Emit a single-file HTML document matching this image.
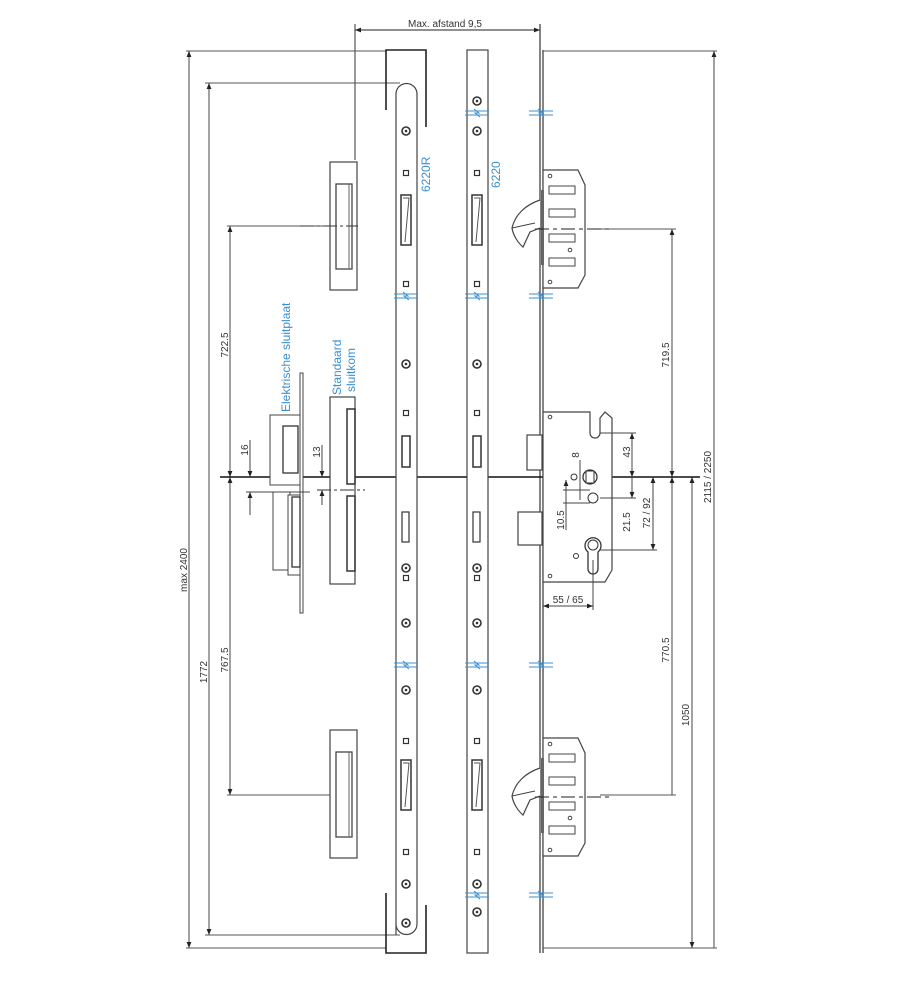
<!DOCTYPE html>
<html><head><meta charset="utf-8"><style>
html,body{margin:0;padding:0;background:#fff}
svg{display:block}
text{font-family:"Liberation Sans",sans-serif;font-size:10px;fill:#333}
.b{fill:#3a8fd0;font-size:12px}
</style></head><body>
<svg width="903" height="1000" viewBox="0 0 903 1000" xmlns="http://www.w3.org/2000/svg">
<defs>
<marker id="a" viewBox="0 0 10 10" refX="10" refY="5" markerWidth="6" markerHeight="6" orient="auto-start-reverse"><path d="M0,1 L10,5 L0,9 z" fill="#222"/></marker>
<g id="hole"><circle r="4" fill="none" stroke="#333" stroke-width="1.6"/><circle r="1.3" fill="#333"/></g>
<g id="sq"><rect x="-2.5" y="-2.5" width="5" height="5" fill="none" stroke="#333" stroke-width="1.2"/></g>
<g id="latch"><rect x="-5" y="0" width="10" height="50" fill="none" stroke="#333" stroke-width="1.5"/><path d="M-3,3 L3,3 L1,25 L-1,47" fill="none" stroke="#555" stroke-width="1"/></g>
<g id="brk"><line x1="-12" y1="-2" x2="12" y2="-2" stroke="#3a8fd0" stroke-width="1"/><line x1="-12" y1="2" x2="12" y2="2" stroke="#3a8fd0" stroke-width="1"/><path d="M-3,-4 L2,0 L-2,0 L3,4" fill="none" stroke="#3a8fd0"/></g>
<g id="hook">
<path d="M543,170 L578,170 L585,185 L585,275 L578,288 L543,288 Z" fill="#fff" stroke="#444" stroke-width="1.2"/>
<rect x="549" y="186" width="26" height="8" fill="none" stroke="#444"/>
<rect x="549" y="209" width="26" height="8" fill="none" stroke="#444"/>
<rect x="549" y="234" width="26" height="8" fill="none" stroke="#444"/>
<rect x="549" y="258" width="26" height="8" fill="none" stroke="#444"/>
<circle cx="550" cy="176" r="1.8" fill="none" stroke="#444"/><circle cx="550" cy="282" r="1.8" fill="none" stroke="#444"/><circle cx="570" cy="250" r="1.8" fill="none" stroke="#444"/>
<path d="M540,200 C525,205 515,215 512,228 C513,235 518,243 523,247 L530,232 L540,228" fill="#fff" stroke="#444" stroke-width="1.2"/>
<path d="M512,228 L535,223" stroke="#444" fill="none"/>
<rect x="541" y="190" width="3" height="75" fill="#666"/>
<line x1="535" y1="229" x2="610" y2="229" stroke="#222" stroke-dasharray="14,4,4,4"/>
</g>
</defs>

<!-- top dim -->
<line x1="355" y1="30" x2="540" y2="30" stroke="#222" marker-start="url(#a)" marker-end="url(#a)"/>
<text x="445" y="27" text-anchor="middle">Max. afstand 9,5</text>
<line x1="355" y1="24" x2="355" y2="160" stroke="#333"/>
<line x1="540" y1="24" x2="540" y2="953" stroke="#333" stroke-width="1.2"/>
<line x1="543" y1="50" x2="543" y2="953" stroke="#333" stroke-width="1.2"/>

<!-- left dims -->
<line x1="186" y1="51" x2="386" y2="51" stroke="#555"/>
<line x1="189" y1="51" x2="189" y2="948" stroke="#444" marker-start="url(#a)" marker-end="url(#a)"/>
<line x1="186" y1="948" x2="386" y2="948" stroke="#555"/>
<text transform="translate(187,570) rotate(-90)" text-anchor="middle">max 2400</text>
<line x1="205" y1="83" x2="400" y2="83" stroke="#555"/>
<line x1="209" y1="83" x2="209" y2="935" stroke="#444" marker-start="url(#a)" marker-end="url(#a)"/>
<line x1="205" y1="935" x2="400" y2="935" stroke="#555"/>
<text transform="translate(207,672) rotate(-90)" text-anchor="middle">1772</text>
<line x1="227" y1="226" x2="358" y2="226" stroke="#555"/>
<line x1="230" y1="226" x2="230" y2="477" stroke="#444" marker-start="url(#a)" marker-end="url(#a)"/>
<line x1="230" y1="477" x2="230" y2="795" stroke="#444" marker-start="url(#a)" marker-end="url(#a)"/>
<line x1="227" y1="795" x2="330" y2="795" stroke="#555"/>
<text transform="translate(228,345) rotate(-90)" text-anchor="middle">722.5</text>
<text transform="translate(228,660) rotate(-90)" text-anchor="middle">767.5</text>

<!-- right dims -->
<line x1="543" y1="51" x2="717" y2="51" stroke="#555"/>
<line x1="714" y1="51" x2="714" y2="948" stroke="#444" marker-start="url(#a)"/>
<line x1="543" y1="948" x2="717" y2="948" stroke="#555"/>
<text transform="translate(711,477) rotate(-90)" text-anchor="middle">2115 / 2250</text>
<line x1="600" y1="229" x2="676" y2="229" stroke="#555"/>
<line x1="672" y1="229" x2="672" y2="477" stroke="#444" marker-start="url(#a)" marker-end="url(#a)"/>
<line x1="672" y1="477" x2="672" y2="795" stroke="#444" marker-start="url(#a)"/>
<line x1="600" y1="795" x2="676" y2="795" stroke="#555"/>
<text transform="translate(669,355) rotate(-90)" text-anchor="middle">719.5</text>
<text transform="translate(669,650) rotate(-90)" text-anchor="middle">770.5</text>
<line x1="692" y1="477" x2="692" y2="948" stroke="#444" marker-start="url(#a)" marker-end="url(#a)"/>
<text transform="translate(689,715) rotate(-90)" text-anchor="middle">1050</text>

<!-- main center line -->
<line x1="220" y1="477" x2="700" y2="477" stroke="#111" stroke-width="1.6"/>

<!-- U brackets -->
<path d="M386,110 L386,50 L426,50 L426,127" fill="none" stroke="#222" stroke-width="1.6"/>
<path d="M386,893 L386,953 L426,953 L426,905" fill="none" stroke="#222" stroke-width="1.6"/>

<!-- 6220R strip -->
<path d="M396,935 L396,94 A10.5,10.5 0 0 1 417,94 L417,924 A10.5,10.5 0 0 1 396,924" fill="#fff" stroke="#444" stroke-width="1.2"/>
<text class="b" transform="translate(430,192) rotate(-90)">6220R</text>
<use href="#hole" x="406" y="131"/><use href="#sq" x="406" y="173"/><use href="#latch" x="406" y="195"/><use href="#sq" x="406" y="284"/>
<use href="#brk" x="406" y="296"/>
<use href="#hole" x="406" y="364"/><use href="#sq" x="406" y="413"/>
<rect x="402" y="436" width="8" height="31" fill="none" stroke="#333" stroke-width="1.5"/>
<rect x="402" y="512" width="7" height="30" fill="none" stroke="#333" stroke-width="1.2"/>
<use href="#hole" x="406" y="568"/><use href="#sq" x="406" y="578"/>
<use href="#hole" x="406" y="623"/><use href="#brk" x="406" y="665"/>
<use href="#hole" x="406" y="690"/><use href="#sq" x="406" y="741"/><use href="#latch" x="406" y="760"/>
<use href="#sq" x="406" y="852"/><use href="#hole" x="406" y="884"/><use href="#hole" x="406" y="923"/>

<!-- 6220 strip -->
<rect x="467" y="50" width="21" height="903" fill="#fff" stroke="#444" stroke-width="1.2"/>
<text class="b" transform="translate(500,188) rotate(-90)">6220</text>
<use href="#hole" x="477" y="101"/><use href="#brk" x="477" y="113"/><use href="#hole" x="477" y="131"/>
<use href="#sq" x="477" y="173"/><use href="#latch" x="477" y="195"/><use href="#sq" x="477" y="284"/>
<use href="#brk" x="477" y="296"/>
<use href="#hole" x="477" y="364"/><use href="#sq" x="477" y="413"/>
<rect x="473" y="436" width="8" height="31" fill="none" stroke="#333" stroke-width="1.5"/>
<rect x="473" y="512" width="7" height="30" fill="none" stroke="#333" stroke-width="1.2"/>
<use href="#hole" x="477" y="568"/><use href="#sq" x="477" y="578"/>
<use href="#hole" x="477" y="623"/><use href="#brk" x="477" y="665"/>
<use href="#hole" x="477" y="690"/><use href="#sq" x="477" y="741"/><use href="#latch" x="477" y="760"/>
<use href="#sq" x="477" y="852"/><use href="#hole" x="477" y="884"/><use href="#brk" x="477" y="895"/><use href="#hole" x="477" y="912"/>

<!-- breaks on front plate -->
<use href="#brk" x="541" y="113" transform="translate(0,0)"/>
<use href="#brk" x="541" y="296"/><use href="#brk" x="541" y="665"/><use href="#brk" x="541" y="895"/>

<!-- hooks -->
<use href="#hook"/>
<use href="#hook" y="568"/>

<!-- lock body -->
<path d="M543,412 L590,412 L590,433 A5,5 0 0 0 600,433 L600,418 L605,412 L612,418 L612,570 L605,582 L543,582 Z" fill="#fff" stroke="#444" stroke-width="1.2"/>
<circle cx="550" cy="417" r="1.8" fill="none" stroke="#444"/><circle cx="550" cy="576" r="1.8" fill="none" stroke="#444"/>
<rect x="527" y="435" width="15" height="35" fill="#fff" stroke="#444" stroke-width="1.2"/>
<rect x="518" y="512" width="24" height="33" fill="#fff" stroke="#444" stroke-width="1.2"/>
<circle cx="590" cy="477" r="7" fill="none" stroke="#333" stroke-width="1.3"/><rect x="586" y="471" width="8" height="12" fill="none" stroke="#333"/>
<circle cx="574" cy="477" r="3" fill="none" stroke="#333"/>
<circle cx="593" cy="498" r="5" fill="none" stroke="#333"/>
<circle cx="576" cy="556" r="2.5" fill="none" stroke="#333"/>
<path d="M588,569 L588,552 A8,8 0 1 1 598,552 L598,569 A5,5 0 0 1 588,569 Z" fill="none" stroke="#333" stroke-width="1.3"/>
<circle cx="593" cy="545" r="5" fill="none" stroke="#333"/>
<line x1="600" y1="433" x2="636" y2="433" stroke="#444"/>
<line x1="632" y1="433" x2="632" y2="477" stroke="#444" marker-start="url(#a)" marker-end="url(#a)"/>
<text transform="translate(630,452) rotate(-90)" text-anchor="middle">43</text>
<line x1="600" y1="498" x2="636" y2="498" stroke="#444"/>
<line x1="632" y1="477" x2="632" y2="498" stroke="#444" marker-end="url(#a)"/>
<text transform="translate(630,522) rotate(-90)" text-anchor="middle">21.5</text>
<line x1="600" y1="550" x2="657" y2="550" stroke="#444"/>
<line x1="653" y1="477" x2="653" y2="550" stroke="#444" marker-start="url(#a)" marker-end="url(#a)"/>
<text transform="translate(650,513) rotate(-90)" text-anchor="middle">72 / 92</text>
<line x1="580" y1="460" x2="580" y2="500" stroke="#444"/>
<text transform="translate(579,455) rotate(-90)" text-anchor="middle">8</text>
<line x1="563" y1="490" x2="590" y2="490" stroke="#444"/><line x1="563" y1="503" x2="590" y2="503" stroke="#444"/>
<line x1="566" y1="480" x2="566" y2="530" stroke="#444" marker-start="url(#a)"/>
<text transform="translate(564,520) rotate(-90)" text-anchor="middle">10.5</text>
<line x1="593" y1="560" x2="593" y2="610" stroke="#444"/>
<line x1="543" y1="606" x2="593" y2="606" stroke="#444" marker-start="url(#a)" marker-end="url(#a)"/>
<text x="568" y="603" text-anchor="middle">55 / 65</text>

<!-- left strike plates -->
<rect x="330" y="162" width="27" height="128" fill="#fff" stroke="#444" stroke-width="1.2"/>
<rect x="336" y="184" width="16" height="85" fill="none" stroke="#444" stroke-width="1.3"/>
<line x1="349" y1="184" x2="349" y2="269" stroke="#666"/>
<line x1="300" y1="226" x2="358" y2="226" stroke="#333" stroke-dasharray="14,3,3,3"/>
<rect x="330" y="730" width="27" height="128" fill="#fff" stroke="#444" stroke-width="1.2"/>
<rect x="336" y="752" width="16" height="85" fill="none" stroke="#444" stroke-width="1.3"/>
<line x1="349" y1="752" x2="349" y2="837" stroke="#666"/>

<!-- electric strike -->
<text class="b" transform="translate(290,412) rotate(-90)">Elektrische sluitplaat</text>
<rect x="300" y="373" width="3" height="240" fill="#fff" stroke="#444"/>
<rect x="270" y="415" width="30" height="70" fill="#fff" stroke="#444"/>
<rect x="283" y="426" width="15" height="47" fill="none" stroke="#333" stroke-width="1.3"/>
<rect x="273" y="492" width="17" height="78" fill="#fff" stroke="#444"/>
<rect x="288" y="495" width="12" height="80" fill="#fff" stroke="#444"/>
<rect x="292" y="497" width="8" height="70" fill="none" stroke="#333" stroke-width="1.3"/>
<line x1="246" y1="492" x2="310" y2="492" stroke="#444"/>
<line x1="250" y1="440" x2="250" y2="477" stroke="#444" marker-end="url(#a)"/>
<line x1="250" y1="515" x2="250" y2="492" stroke="#444" marker-end="url(#a)"/>
<text transform="translate(248,450) rotate(-90)" text-anchor="middle">16</text>

<!-- standaard sluitkom -->
<text class="b" transform="translate(341,395) rotate(-90)">Standaard</text>
<text class="b" transform="translate(355,392) rotate(-90)">sluitkom</text>
<rect x="330" y="397" width="25" height="187" fill="#fff" stroke="#444" stroke-width="1.2"/>
<rect x="347" y="409" width="8" height="75" fill="none" stroke="#333" stroke-width="1.5"/>
<rect x="347" y="496" width="8" height="75" fill="none" stroke="#333" stroke-width="1.5"/>
<line x1="317" y1="490" x2="365" y2="490" stroke="#333" stroke-dasharray="14,3,3,3"/>
<line x1="322" y1="445" x2="322" y2="477" stroke="#444" marker-end="url(#a)"/>
<line x1="322" y1="505" x2="322" y2="490" stroke="#444" marker-end="url(#a)"/>
<text transform="translate(320,452) rotate(-90)" text-anchor="middle">13</text>
</svg>
</body></html>
